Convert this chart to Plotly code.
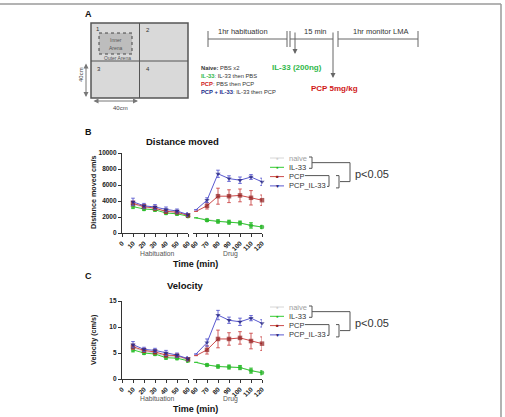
import plotly.graph_objects as go

W, H = 505, 417
FONT = "Liberation Sans"


def px(x):
    return x / W


def py(y):
    return 1 - y / H


# ---------------- data ----------------
groups = ["naive", "IL-33", "PCP", "PCP_IL-33"]
time_hab = [10, 20, 30, 40, 50, 60]
time_drug = [60, 70, 80, 90, 100, 110, 120]
hab_ticks = [0, 10, 20, 30, 40, 50, 60]
drug_ticks = [60, 70, 80, 90, 100, 110, 120]
dist_ticks = [0, 2000, 4000, 6000, 8000, 10000]
vel_ticks = [0, 5, 10, 15]

dist_hab = {
    "naive": [3600, 3200, 3050, 2750, 2600, 2250],
    "IL-33": [3300, 3000, 2900, 2500, 2400, 2100],
    "PCP": [3700, 3300, 3100, 2700, 2600, 2200],
    "PCP_IL-33": [3900, 3400, 3250, 2950, 2750, 2300],
}
dist_hab_err = {
    "naive": [300, 250, 250, 250, 200, 200],
    "IL-33": [250, 200, 200, 200, 200, 150],
    "PCP": [300, 250, 250, 250, 200, 200],
    "PCP_IL-33": [450, 300, 300, 300, 250, 250],
}
dist_drug = {
    "naive": [1900, 1650, 1480, 1380, 1250, 950, 750],
    "IL-33": [1900, 1600, 1450, 1350, 1250, 950, 750],
    "PCP": [2700, 3400, 4600, 4600, 4700, 4400, 4100],
    "PCP_IL-33": [2900, 4100, 7400, 6800, 6600, 7000, 6400],
}
dist_drug_err = {
    "naive": [None, 150, 200, 200, 200, 300, 200],
    "IL-33": [None, 150, 200, 250, 250, 350, 200],
    "PCP": [None, 400, 1000, 800, 800, 900, 650],
    "PCP_IL-33": [None, 300, 450, 350, 400, 300, 450],
}

vel_hab = {
    "naive": [6.0, 5.3, 5.0, 4.4, 4.3, 3.7],
    "IL-33": [5.6, 5.0, 4.8, 4.1, 4.0, 3.5],
    "PCP": [6.2, 5.5, 5.2, 4.6, 4.5, 3.8],
    "PCP_IL-33": [6.6, 5.7, 5.5, 5.0, 4.6, 3.9],
}
vel_hab_err = {
    "naive": [0.4, 0.3, 0.3, 0.3, 0.3, 0.3],
    "IL-33": [0.4, 0.3, 0.3, 0.3, 0.3, 0.3],
    "PCP": [0.5, 0.4, 0.4, 0.4, 0.3, 0.3],
    "PCP_IL-33": [0.6, 0.4, 0.4, 0.5, 0.4, 0.4],
}
vel_drug = {
    "naive": [3.2, 2.7, 2.45, 2.3, 2.2, 1.65, 1.25],
    "IL-33": [3.2, 2.7, 2.4, 2.3, 2.2, 1.6, 1.2],
    "PCP": [4.5, 5.6, 7.7, 7.7, 7.9, 7.3, 6.8],
    "PCP_IL-33": [4.8, 7.0, 12.3, 11.3, 11.0, 11.7, 10.7],
}
vel_drug_err = {
    "naive": [None, 0.2, 0.3, 0.3, 0.4, 0.4, 0.3],
    "IL-33": [None, 0.2, 0.3, 0.4, 0.4, 0.5, 0.4],
    "PCP": [None, 0.8, 1.7, 1.2, 1.2, 1.5, 1.3],
    "PCP_IL-33": [None, 0.7, 0.9, 0.6, 0.7, 0.5, 0.7],
}

line_col = {"naive": "#d6d6d6", "IL-33": "#33cc33", "PCP": "#cc4a4a", "PCP_IL-33": "#5a5ad0"}
mark_col = {"naive": "#cfcfcf", "IL-33": "#1fb51f", "PCP": "#8e1b1b", "PCP_IL-33": "#1c1c78"}
symbols = {"naive": "circle", "IL-33": "circle", "PCP": "square", "PCP_IL-33": "triangle-down"}
glyph = {"naive": "●", "IL-33": "●", "PCP": "■", "PCP_IL-33": "▼"}

fig = go.Figure()


def add_series(xs, ys, errs, xa, ya, g, first_hidden):
    sizes = [4.5] * len(xs)
    if first_hidden:
        sizes[0] = 0
    fig.add_trace(go.Scatter(
        x=xs, y=ys, xaxis=xa, yaxis=ya, mode="lines+markers", name=g, showlegend=False,
        line=dict(color=line_col[g], width=1),
        marker=dict(color=mark_col[g], size=sizes, symbol=symbols[g], line=dict(width=0)),
        error_y=dict(type="data", array=errs, color=line_col[g], thickness=0.9, width=1.8),
        cliponaxis=False,
    ))


for g in groups:
    add_series(time_hab, dist_hab[g], dist_hab_err[g], "x", "y", g, False)
    add_series(time_drug, dist_drug[g], dist_drug_err[g], "x2", "y", g, True)
    add_series(time_hab, vel_hab[g], vel_hab_err[g], "x3", "y2", g, False)
    add_series(time_drug, vel_drug[g], vel_drug_err[g], "x4", "y2", g, True)

AX = dict(showline=True, linecolor="#333", linewidth=1.2, ticks="outside", ticklen=3,
          tickwidth=1, tickcolor="#333", showgrid=False, zeroline=False, automargin=False,
          tickfont=dict(size=6.5, family=FONT, color="#222", weight="bold"))


def xax(x0, x1, rng, tv, anchor):
    d = dict(AX)
    d.update(domain=[px(x0), px(x1)], range=rng, tickvals=tv, ticktext=[str(v) for v in tv],
             tickangle=-45, anchor=anchor)
    return d


def yax(y0, y1, rng, tv, anchor):
    d = dict(AX)
    d.update(domain=[py(y0), py(y1)], range=rng, tickvals=tv, ticktext=[str(v) for v in tv],
             anchor=anchor)
    return d


fig.update_layout(
    width=W, height=H, margin=dict(l=0, r=0, t=0, b=0),
    paper_bgcolor="white", plot_bgcolor="white",
    xaxis=xax(122, 188, [0, 60], hab_ticks, "y"),
    xaxis2=xax(193, 262, [57.27, 120], drug_ticks, "y"),
    yaxis=yax(233, 153, [0, 10000], dist_ticks, "x"),
    xaxis3=xax(122, 188, [0, 60], hab_ticks, "y2"),
    xaxis4=xax(193, 262, [57.27, 120], drug_ticks, "y2"),
    yaxis2=yax(379, 301, [0, 15], vel_ticks, "x3"),
)

shapes = []
anns = []


def line(x0, y0, x1, y1, color="#555", width=1, dash="solid"):
    shapes.append(dict(type="line", xref="paper", yref="paper", x0=px(x0), y0=py(y0),
                       x1=px(x1), y1=py(y1), line=dict(color=color, width=width, dash=dash)))


def rect(x0, y0, x1, y1, fill, color="#444", width=1, dash="solid"):
    shapes.append(dict(type="rect", xref="paper", yref="paper", x0=px(x0), y0=py(y0),
                       x1=px(x1), y1=py(y1), fillcolor=fill,
                       line=dict(color=color, width=width, dash=dash)))


def text(x, y, t, size=7, color="#222", bold=False, xanchor="center", angle=0):
    anns.append(dict(x=px(x), y=py(y), xref="paper", yref="paper", text=t, showarrow=False,
                     font=dict(size=size, color=color, family=FONT, weight="bold" if bold else "normal"),
                     xanchor=xanchor, yanchor="middle", textangle=angle))


def arrow(x0, y0, x1, y1, side="end", color="#555"):
    anns.append(dict(x=px(x1), y=py(y1), ax=x0 - x1, ay=y0 - y1, xref="paper", yref="paper",
                     axref="pixel", ayref="pixel", text="", showarrow=True, arrowhead=2,
                     startarrowhead=2, arrowside=side, arrowsize=1, arrowwidth=1,
                     arrowcolor=color))


# frame
line(0, 4, 501, 4, "#9a9a9a", 1.5)
line(501, 4, 501, 417, "#9a9a9a", 1.5)

# ---------------- panel A ----------------
text(88, 14, "A", 9, "#111", True)
rect(91, 23, 188, 98, "#d9d9d9", "#555", 1.5)
line(139.5, 23, 139.5, 98, "#555", 1)
line(91, 61, 188, 61, "#555", 1)
rect(99, 33, 132, 54, "#bdbdbd", "#444", 1, "dot")
text(98, 29, "1", 6, "#333")
text(148, 30, "2", 6, "#333")
text(99, 69, "3", 6, "#333")
text(148, 69, "4", 6, "#333")
text(115.5, 40, "Inner", 5, "#555")
text(115.5, 48, "Arena", 5, "#555")
text(117, 58, "Outer Arena", 5, "#555")
arrow(86, 62, 86, 97, "end+start", "#777")
text(81, 75, "40cm", 6, "#444", angle=-90)
arrow(92, 101, 138, 101, "end+start", "#777")
text(120, 108, "40cm", 6, "#444")

# timeline
TL = "#666"
line(208, 39, 287, 39, TL)
line(208, 31, 208, 47, TL)
line(287, 31, 287, 47, TL)
line(290, 39, 333, 39, TL)
line(290, 31, 290, 47, TL)
arrow(295, 31, 295, 54, "end", TL)
arrow(333, 31, 333, 78, "end", TL)
line(338, 39, 418, 39, TL)
line(338, 31, 338, 47, TL)
line(418, 31, 418, 47, TL)
text(243, 32, "1hr habituation", 7.5, "#333")
text(315, 32, "15 min", 7.5, "#333")
text(380, 32, "1hr monitor LMA", 7.5, "#333")
text(297, 67, "IL-33 (200ng)", 8, "#2fb84a", True)
text(334, 88, "PCP 5mg/kg", 8, "#d01818", True)
text(199, 68, "<b>Naive:</b> PBS x2", 5.8, "#333", xanchor="left")
text(199, 76, "<b><span style='color:#2fb84a'>IL-33</span></b>: IL-33 then PBS", 5.8, "#333", xanchor="left")
text(199, 84, "<b><span style='color:#d01818'>PCP</span></b>: PBS then PCP", 5.8, "#333", xanchor="left")
text(199, 92, "<b><span style='color:#1c2a8a'>PCP + IL-33</span></b>: IL-33 then PCP", 5.8, "#333", xanchor="left")


# ---------------- panels B and C decorations ----------------
def panel_deco(top, letter, title, title_x, ylab, ylab_y, bottom, leg_y):
    text(88, top, letter, 9, "#111", True)
    text(title_x, top + 9, title, 9.5, "#111", True)
    text(93, ylab_y, ylab, 7.2, "#222", True, angle=-90)
    text(157, bottom, "Habituation", 6.8, "#555")
    text(230, bottom + 1, "Drug", 6.8, "#555")
    text(195, bottom + 11, "Time (min)", 9, "#111", True)
    # legend
    for i, g in enumerate(groups):
        yy = leg_y + i * 9.3
        line(270, yy, 284, yy, line_col[g], 1)
        text(277, yy, glyph[g], 4.5 if g != "PCP_IL-33" else 5, mark_col[g])
        text(287, yy, g, 7.5, "#a0a0a0" if g == "naive" else "#333", xanchor="left")
    # significance brackets
    bc = "#555"
    y1, y2, y3, y4 = leg_y, leg_y + 9.3, leg_y + 18.6, leg_y + 27.9
    line(309, y1 - 1, 312, y1 - 1, bc)
    line(312, y1 - 1, 312, y2 + 1, bc)
    line(309, y2 + 1, 312, y2 + 1, bc)
    mid1 = (y1 + y2) / 2
    line(312, mid1, 350, mid1, bc)
    line(350, mid1, 350, y3 + 5, bc)
    line(340, y3 + 5, 350, y3 + 5, bc)
    line(305, y3 - 1, 329, y3 - 1, bc)
    line(329, y3 - 1, 329, y4 + 0.5, bc)
    line(327, y4 + 0.5, 329, y4 + 0.5, bc)
    line(336, y3 - 1, 339, y3 - 1, bc)
    line(339, y3 - 1, 339, y4 + 2, bc)
    line(336, y4 + 2, 339, y4 + 2, bc)
    text(353, mid1 + 11, "p<0.05", 11, "#333", xanchor="left")


panel_deco(132, "B", "Distance moved", 182, "Distance moved cm/s", 192, 253, 158)
panel_deco(276, "C", "Velocity", 185, "Velocity (cm/s)", 340, 398, 307)

fig.update_layout(shapes=shapes, annotations=anns)
fig.write_html("out.html")
